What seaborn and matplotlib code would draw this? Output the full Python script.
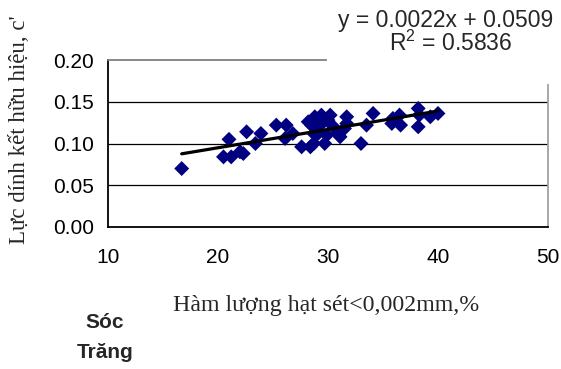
import numpy as np
import pandas as pd
import seaborn as sns
import matplotlib
matplotlib.use("Agg")
import matplotlib.pyplot as plt

# Data (clay content %, effective cohesion c')
clay = [16.7, 20.5, 21.0, 21.2, 22.0, 22.3, 22.6, 23.4, 23.9, 25.3, 26.2, 26.1, 26.8,
        27.6, 28.4, 28.5, 28.8, 29.4, 30.2, 28.7, 28.7, 29.7, 29.9, 30.5, 30.9, 31.7,
        31.7, 31.1, 29.3, 29.1, 28.2, 30.0, 31.5, 33.0, 33.5, 34.1, 35.8, 35.9, 36.5,
        36.6, 38.2, 38.2, 38.3, 39.3, 40.0]
cohesion = [0.070, 0.084, 0.105, 0.084, 0.090, 0.088, 0.114, 0.100, 0.112, 0.122, 0.122, 0.106, 0.112,
            0.096, 0.096, 0.122, 0.132, 0.134, 0.134, 0.112, 0.100, 0.100, 0.110, 0.120, 0.112, 0.132,
            0.124, 0.108, 0.122, 0.112, 0.126, 0.128, 0.118, 0.100, 0.122, 0.136, 0.124, 0.130, 0.134,
            0.122, 0.142, 0.120, 0.134, 0.132, 0.136]
slope, intercept = 0.0022, 0.0509
equation_text = "y = 0.0022x + 0.0509"
r2_text = "R$^{2}$ = 0.5836"
x_ticks = [10, 20, 30, 40, 50]
y_ticks = [0.00, 0.05, 0.10, 0.15, 0.20]
xlabel = "Hàm lượng hạt sét<0,002mm,%"
ylabel = "Lực dính kết hữu hiệu, c'"

df = pd.DataFrame({"clay": clay, "c": cohesion})

sns.set_style("white")
plt.rcParams["font.family"] = ["Liberation Sans", "DejaVu Sans"]
plt.rcParams["mathtext.fontset"] = "custom"
plt.rcParams["mathtext.rm"] = "Liberation Sans"

fig = plt.figure(figsize=(5.61, 3.69), dpi=100)
ax = fig.add_axes([108/561, 1-227/369, 440/561, 167/369])

for yv in [0.05, 0.10, 0.15]:
    ax.axhline(yv, color="black", lw=0.9, zorder=1)

sns.scatterplot(data=df, x="clay", y="c", marker="D", s=58, color="#000080",
                edgecolor="none", linewidth=0, ax=ax, zorder=3, legend=False)

xl = np.array([min(clay), max(clay)])
ax.plot(xl, slope*xl + intercept, color="black", lw=2.3, zorder=4)

ax.set_xlim(10, 50)
ax.set_ylim(0, 0.20)
ax.set_xticks(x_ticks)
ax.set_yticks(y_ticks)
ax.set_yticklabels([f"{v:.2f}" for v in y_ticks])
ax.tick_params(axis="both", direction="out", length=4, width=1.0, color="black",
               labelsize=15, labelcolor="black")
ax.tick_params(axis="x", pad=11)
ax.tick_params(axis="y", pad=6)
ax.set_xlabel("")
ax.set_ylabel("")

for side in ["left", "bottom"]:
    ax.spines[side].set_color("black")
    ax.spines[side].set_linewidth(1.3)
ax.spines["top"].set_color("#808080")
ax.spines["top"].set_linewidth(1.3)
ax.spines["top"].set_bounds(10, 29.8)
ax.spines["right"].set_color("#a0a0a0")
ax.spines["right"].set_linewidth(1.3)
ax.spines["right"].set_bounds(0, 0.170)

fig.text(446/561, 1-20/369, equation_text, ha="center", va="center", fontsize=16.5)
fig.text(451/561, 1-43/369, r2_text, ha="center", va="center", fontsize=16.5)

fig.text(20/561, 1-130/369, ylabel, rotation=90, ha="center", va="center",
         fontsize=16.5, family=["Liberation Serif", "DejaVu Serif"])
fig.text(326/561, 1-305/369, xlabel, ha="center", va="center",
         fontsize=17.2, family=["Liberation Serif", "DejaVu Serif"])

fig.text(105/561, 1-323/369, "Sóc", ha="center", va="center", fontsize=15, fontweight="bold")
fig.text(105/561, 1-352/369, "Trăng", ha="center", va="center", fontsize=15, fontweight="bold")

fig.savefig("out.png", dpi=100)
